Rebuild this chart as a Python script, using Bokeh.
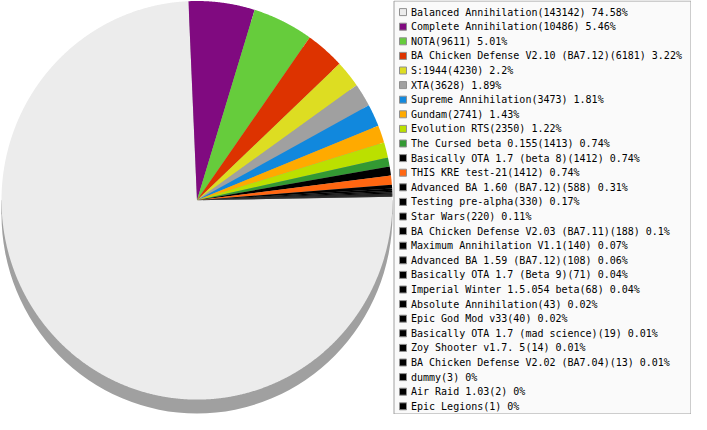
import numpy as np
from bokeh.plotting import figure
from bokeh.models import Range1d
from bokeh.embed import file_html
from bokeh.resources import INLINE
from bokeh.core.properties import value

games = [
    "Balanced Annihilation", "Complete Annihilation", "NOTA",
    "BA Chicken Defense V2.10 (BA7.12)", "S:1944", "XTA",
    "Supreme Annihilation", "Gundam", "Evolution RTS",
    "The Cursed beta 0.155", "Basically OTA 1.7 (beta 8)", "THIS KRE test-21",
    "Advanced BA 1.60 (BA7.12)", "Testing pre-alpha", "Star Wars",
    "BA Chicken Defense V2.03 (BA7.11)", "Maximum Annihilation V1.1",
    "Advanced BA 1.59 (BA7.12)", "Basically OTA 1.7 (Beta 9)",
    "Imperial Winter 1.5.054 beta", "Absolute Annihilation", "Epic God Mod v33",
    "Basically OTA 1.7 (mad science)", "Zoy Shooter v1.7. 5",
    "BA Chicken Defense V2.02 (BA7.04)", "dummy", "Air Raid 1.03", "Epic Legions",
]
counts = [143142, 10486, 9611, 6181, 4230, 3628, 3473, 2741, 2350, 1413, 1412, 1412,
          588, 330, 220, 188, 140, 108, 71, 68, 43, 40, 19, 14, 13, 3, 2, 1]
percents = [74.58, 5.46, 5.01, 3.22, 2.2, 1.89, 1.81, 1.43, 1.22, 0.74, 0.74, 0.74,
            0.31, 0.17, 0.11, 0.1, 0.07, 0.06, 0.04, 0.04, 0.02, 0.02, 0.01, 0.01,
            0.01, 0, 0, 0]
colors = ["#ececec", "#800a80", "#66cc3c", "#dd3300", "#dddd22", "#a0a0a0",
          "#1188dd", "#ffaa00", "#bbe000", "#339933", "#000000", "#ff6611"] + ["#000000"] * 16

W, H = 691, 414
p = figure(width=W, height=H, x_range=Range1d(0, W), y_range=Range1d(0, H),
           output_backend="svg", toolbar_location=None, min_border=0,
           x_axis_location=None, y_axis_location=None)
p.grid.visible = False
p.outline_line_color = None
p.background_fill_color = "white"
p.border_fill_color = "white"

# screen pixel y (from top) -> data y
def Y(v):
    return H - np.asarray(v, dtype=float)

CX, CY = 196.5, float(Y(199.8))
RX, RY = 195.5, 199.3
DEPTH = 14

# 3D depth of the pie
p.ellipse(x=CX, y=CY - DEPTH, width=2 * RX, height=2 * RY, fill_color="#a0a0a0", line_color=None)
p.rect(x=CX, y=CY - DEPTH / 2, width=2 * RX, height=DEPTH, fill_color="#a0a0a0", line_color=None)

total = float(sum(counts))
edges = np.concatenate([[0.0], np.cumsum(np.array(counts) / total)])
theta0 = np.deg2rad(1.0)
xs, ys = [], []
for i in range(len(counts)):
    a0 = theta0 - 2 * np.pi * edges[i]
    a1 = theta0 - 2 * np.pi * edges[i + 1]
    n = max(2, int(np.ceil(abs(a1 - a0) / 0.004)) + 1)
    t = np.linspace(a0, a1, n)
    xs.append(np.concatenate([[CX], CX + RX * np.cos(t)]).tolist())
    ys.append(np.concatenate([[CY], CY + RY * np.sin(t)]).tolist())
p.patches(xs, ys, fill_color=colors, line_color=None)

# legend
rows = np.arange(len(games))
row_y = Y(11.6 + 14.6 * rows)
labels = [f"{g}({c}) {pc:g}%" for g, c, pc in zip(games, counts, percents)]
p.quad(left=393.5, right=690.5, top=float(Y(0.5)), bottom=float(Y(413.5)),
       fill_color="#fafafa", line_color="#a0a0a0", line_width=1)
p.rect(x=402.5, y=row_y, width=7, height=7, fill_color=colors, line_color="#909090", line_width=1)
p.text(x=410.5, y=row_y, text=labels, text_font=value("DejaVu Sans Mono"),
       text_font_size="10px", text_baseline="middle", text_color="#000000")

open("out.html", "w").write(file_html(p, INLINE))
